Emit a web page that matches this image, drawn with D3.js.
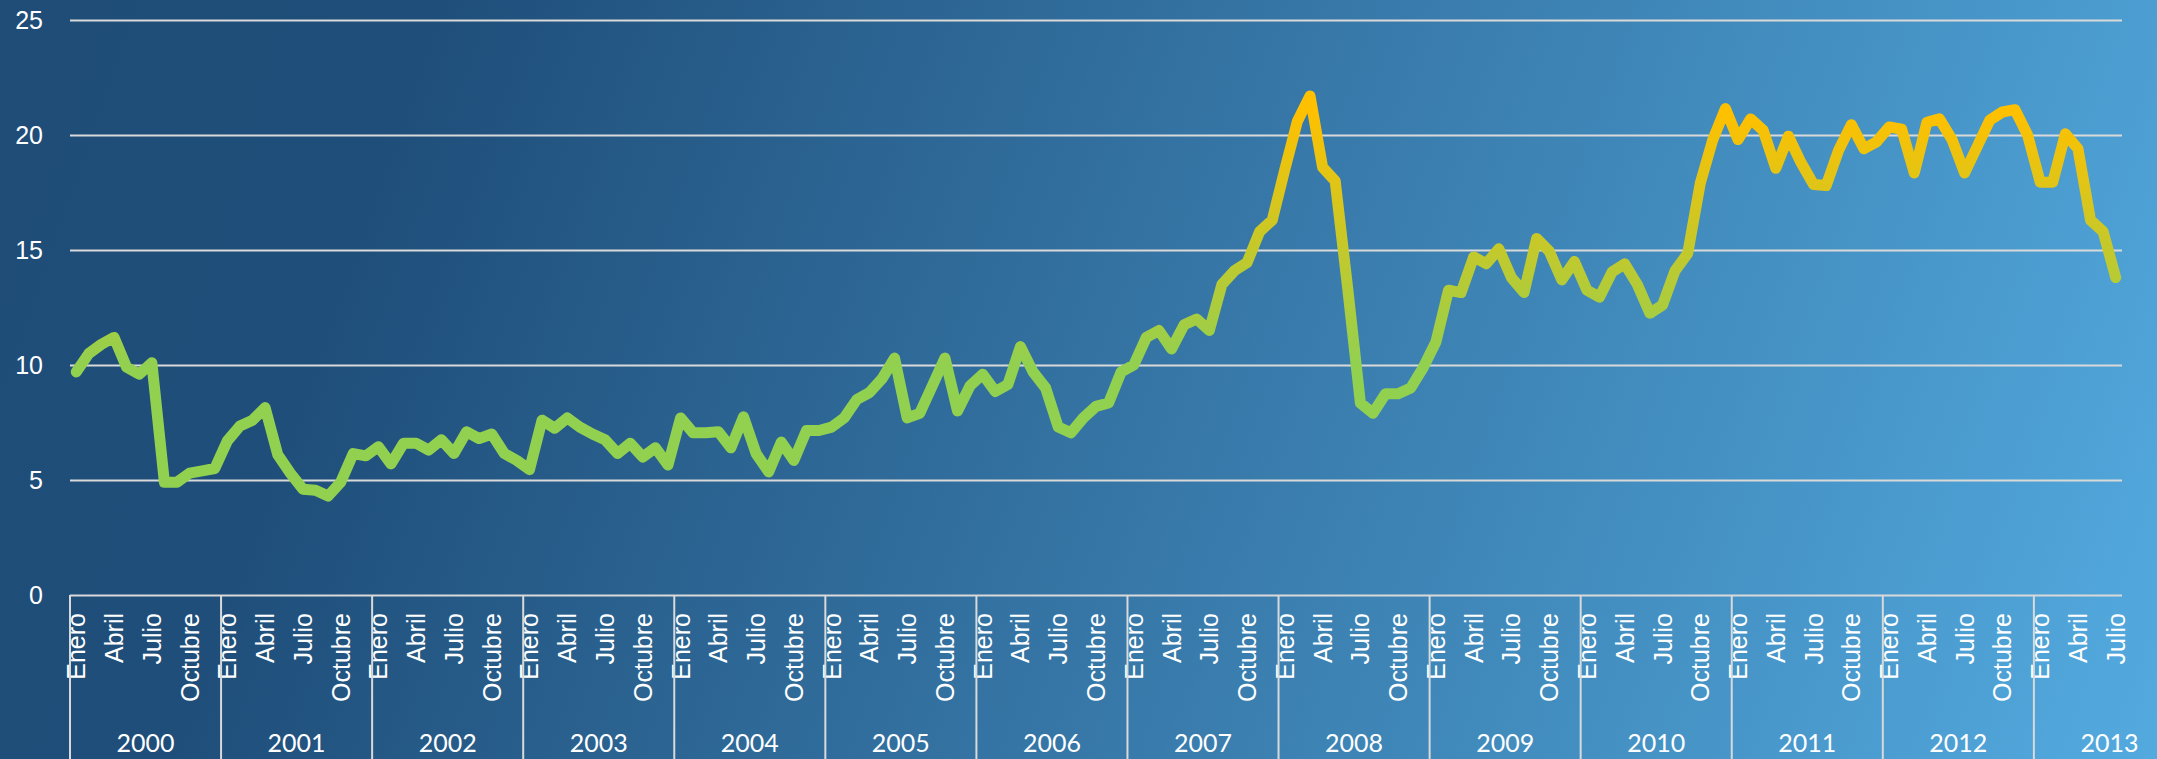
<!DOCTYPE html>
<html>
<head>
<meta charset="utf-8">
<script src="https://cdn.jsdelivr.net/npm/d3@7"></script>
<style>
  html, body { margin: 0; padding: 0; background: #1f4e79; }
  svg { display: block; font-family: Lato, "Noto Sans", sans-serif; }
</style>
</head>
<body>
<svg id="chart" width="2157" height="759"></svg>
<script>
// Years and month labels shown on the category axis
const years = [2000, 2001, 2002, 2003, 2004, 2005, 2006, 2007, 2008, 2009, 2010, 2011, 2012, 2013];
const monthLabels = ["Enero", "Abril", "Julio", "Octubre"];
const yTicks = [0, 5, 10, 15, 20, 25];

// Monthly values, Jan 2000 - Jul 2013
const values = [
  9.7, 10.5, 10.9, 11.2, 9.9, 9.6, 10.1, 4.9, 4.9, 5.3, 5.4, 5.5,          // 2000
  6.7, 7.35, 7.6, 8.15, 6.1, 5.3, 4.6, 4.55, 4.3, 4.9, 6.15, 6.05,        // 2001
  6.45, 5.7, 6.6, 6.6, 6.3, 6.75, 6.15, 7.1, 6.8, 7.0, 6.15, 5.85,        // 2002
  5.45, 7.6, 7.25, 7.7, 7.3, 7.0, 6.75, 6.15, 6.6, 6.0, 6.4, 5.65,        // 2003
  7.7, 7.05, 7.05, 7.1, 6.4, 7.75, 6.15, 5.35, 6.65, 5.85, 7.15, 7.15,    // 2004
  7.3, 7.7, 8.5, 8.8, 9.4, 10.3, 7.7, 7.9, 9.1, 10.3, 8.0, 9.1,           // 2005
  9.6, 8.85, 9.15, 10.8, 9.7, 9.0, 7.3, 7.05, 7.7, 8.2, 8.35, 9.7,        // 2006
  10.0, 11.2, 11.5, 10.7, 11.75, 12.0, 11.5, 13.5, 14.1, 14.45, 15.8, 16.3, // 2007
  18.5, 20.6, 21.7, 18.6, 18.0, 13.3, 8.35, 7.9, 8.75, 8.75, 9.0, 9.9,    // 2008
  11.0, 13.25, 13.15, 14.7, 14.4, 15.05, 13.8, 13.15, 15.5, 14.95, 13.7, 14.5, // 2009
  13.25, 12.95, 14.05, 14.4, 13.5, 12.25, 12.6, 14.1, 14.85, 17.9, 19.8, 21.15, // 2010
  19.8, 20.7, 20.2, 18.55, 19.95, 18.8, 17.85, 17.8, 19.35, 20.45, 19.4, 19.7,  // 2011
  20.35, 20.25, 18.35, 20.55, 20.7, 19.8, 18.35, 19.5, 20.65, 21.0, 21.1, 20.0, // 2012
  17.95, 17.95, 20.05, 19.4, 16.3, 15.8, 13.8                                   // 2013
];

const width = 2157;
const height = 759;
const margin = { top: 20, right: 35, bottom: 164, left: 70 };
const plotRight = width - margin.right;
const plotBottom = height - margin.bottom;

const svg = d3.select("#chart");
const defs = svg.append("defs");

// Diagonal background gradient
const bg = defs.append("linearGradient")
  .attr("id", "bg")
  .attr("gradientUnits", "userSpaceOnUse")
  .attr("x1", 0).attr("y1", 0)
  .attr("x2", width).attr("y2", height);
bg.append("stop").attr("offset", 0).attr("stop-color", "#1f4d78");
bg.append("stop").attr("offset", 0.18).attr("stop-color", "#1f4e7a");
bg.append("stop").attr("offset", 1).attr("stop-color", "#53aadf");

svg.append("rect").attr("width", width).attr("height", height).attr("fill", "url(#bg)");

// Scales
const x = d3.scaleBand()
  .domain(d3.range(values.length))
  .range([margin.left, plotRight])
  .padding(0);

const y = d3.scaleLinear()
  .domain([0, 25])
  .range([plotBottom, margin.top]);

// Line colour goes from green (low) to gold (high)
const lineGrad = defs.append("linearGradient")
  .attr("id", "lineGrad")
  .attr("gradientUnits", "userSpaceOnUse")
  .attr("x1", 0).attr("x2", 0)
  .attr("y1", y(10)).attr("y2", y(21));
lineGrad.append("stop").attr("offset", 0).attr("stop-color", "#92d050");
lineGrad.append("stop").attr("offset", 1).attr("stop-color", "#ffc000");

// Y axis with gridlines
const yAxis = svg.append("g")
  .attr("transform", `translate(${margin.left},0)`)
  .call(d3.axisLeft(y).tickValues(yTicks).tickSize(-(plotRight - margin.left)).tickPadding(27));
yAxis.select(".domain").remove();
yAxis.selectAll("line").attr("stroke", "#d9d9d9").attr("stroke-width", 2);
yAxis.selectAll("text")
  .attr("fill", "#ffffff")
  .style("font-size", "25px");

// Month labels (every quarter)
const monthIdx = d3.range(values.length).filter(i => i % 3 === 0);
const xAxis = svg.append("g")
  .attr("transform", `translate(0,${plotBottom})`)
  .call(d3.axisBottom(x).tickValues(monthIdx).tickSize(0).tickFormat(i => monthLabels[(i % 12) / 3]));
xAxis.select(".domain").remove();
xAxis.selectAll("text")
  .attr("fill", "#ffffff")
  .style("font-size", "25px")
  .attr("transform", "rotate(-90)")
  .attr("text-anchor", "end")
  .attr("x", -18)
  .attr("y", 0)
  .attr("dy", "0.36em");

// Year separators and labels
const yearStart = (yr, k) => k * 12;
svg.append("g").selectAll("line")
  .data(years)
  .enter()
  .append("line")
  .attr("x1", (d, k) => x(yearStart(d, k)))
  .attr("x2", (d, k) => x(yearStart(d, k)))
  .attr("y1", plotBottom)
  .attr("y2", height)
  .attr("stroke", "#d9d9d9")
  .attr("stroke-width", 2);

svg.append("g").selectAll("text")
  .data(years)
  .enter()
  .append("text")
  .attr("x", (d, k) => x(yearStart(d, k)) + 6 * x.bandwidth())
  .attr("y", 743)
  .attr("dy", "0.35em")
  .attr("text-anchor", "middle")
  .attr("fill", "#ffffff")
  .style("font-size", "25px")
  .text(d => d);

// Series line
const line = d3.line()
  .x((d, i) => x(i) + x.bandwidth() / 2)
  .y(d => y(d));

svg.append("path")
  .datum(values)
  .attr("d", line)
  .attr("fill", "none")
  .attr("stroke", "url(#lineGrad)")
  .attr("stroke-width", 11)
  .attr("stroke-linejoin", "round")
  .attr("stroke-linecap", "round");
</script>
</body>
</html>
